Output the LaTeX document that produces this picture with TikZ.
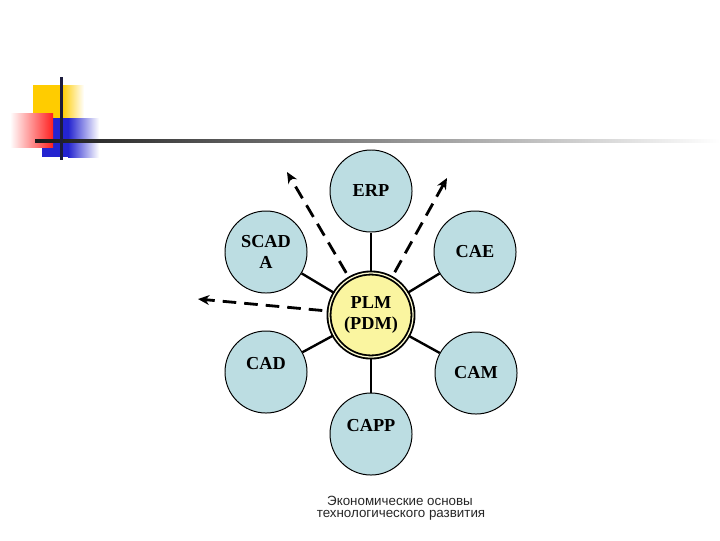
\documentclass[tikz,border=0pt]{standalone}
\usepackage{fontspec}
\setmainfont{Liberation Serif}
\newfontfamily\footfont{Liberation Sans}
\usetikzlibrary{arrows.meta}
\definecolor{satc}{HTML}{BCDDE2}
\definecolor{plmc}{HTML}{FAF5A0}
\definecolor{logoy}{HTML}{FFCC00}
\definecolor{logob}{HTML}{2424D0}
\definecolor{logor}{HTML}{FF2020}
\definecolor{logon}{HTML}{1C1C3C}
\begin{document}
\begin{tikzpicture}[x=0.025cm,y=-0.025cm,
  satnode/.style={circle,draw=black,line width=0.7pt,fill=satc,minimum size=2.05cm,inner sep=0pt,
    font=\bfseries\fontsize{13}{15}\selectfont,align=center},
  hubnode/.style={circle,draw=black,line width=1.3pt,double=plmc!50,double distance=0.9pt,fill=plmc,
    minimum size=2.1cm,inner sep=0pt,font=\bfseries\fontsize{13}{15}\selectfont,align=center},
  lbl/.style={font=\bfseries\fontsize{13}{15}\selectfont,inner sep=0pt},
  link/.style={line width=1.7pt,black},
  dasharrow/.style={line width=2pt,black,dash pattern=on 0.34cm off 0.2cm,shorten <=0.15cm,
    -{Stealth[length=8pt,width=7pt]}},
  foot/.style={font=\footfont\fontsize{9.5}{10}\selectfont,inner sep=0pt,text=black!85}]
\useasboundingbox (0,0) rectangle (720,540);
% logo
\fill[logoy] (33,85) rectangle (62,118);
\shade[left color=logoy,right color=white] (62,85) rectangle (84,118);
\fill[logob] (42,118) rectangle (68,157);
\shade[left color=logob,right color=white] (68,118) rectangle (99,157);
\shade[left color=white,right color=logor] (10,113) rectangle (53,147);
\shade[left color=black!90,middle color=gray!80,right color=white] (35,139.8) rectangle (720,142.6);
\fill[logon] (59.8,77) rectangle (62.8,160);
% nodes
\node[hubnode] (plm) at (371,315) {PLM\\(PDM)};
\node[satnode] (erp) at (371,191) {ERP};
\node[satnode] (scada) at (266,252) {SCAD\\A};
\node[satnode] (cae) at (475,252) {CAE};
\node[satnode,label={[lbl,yshift=0.2cm]center:CAD}] (cad) at (266,372) {};
\node[satnode] (cam) at (476,373) {CAM};
\node[satnode,label={[lbl,yshift=0.22cm]center:CAPP}] (capp) at (371,434) {};
% links
\foreach \n in {erp,scada,cae,cad,cam,capp} \draw[link] (plm) -- (\n);
% dashed arrows
\coordinate (t1) at (287,172);
\coordinate (t2) at (447,178);
\coordinate (t3) at (198,299);
\draw[dasharrow] (plm) -- (t1);
\draw[dasharrow] (plm) -- (t2);
\draw[dasharrow] (plm) -- (t3);
% footer
\node[foot] (f1) at (400,501) {Экономические основы};
\node[foot] (f2) at (401,515) {технологического развития};
\end{tikzpicture}
\end{document}
